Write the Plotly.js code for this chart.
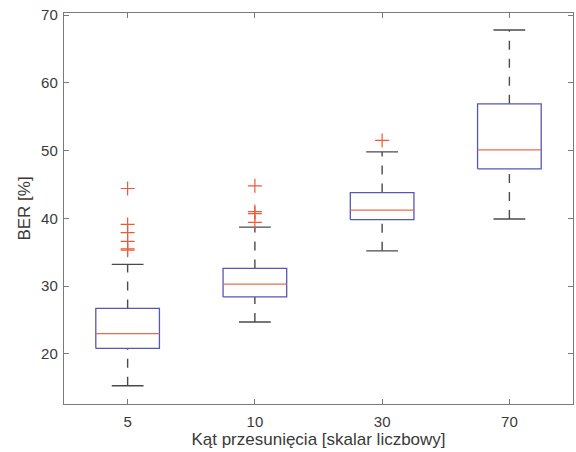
<!DOCTYPE html>
<html>
<head>
<meta charset="utf-8">
<script src="https://cdn.plot.ly/plotly-3.0.1.min.js"></script>
<style>html,body{margin:0;padding:0;background:#fff;}#chart{width:576px;height:452px;}</style>
</head>
<body>
<div id="chart"></div>
<script>
const categories = ['5', '10', '30', '70'];
const q1Values = [20.8, 28.4, 39.8, 47.3];
const medianValues = [23.0, 30.3, 41.2, 50.1];
const q3Values = [26.7, 32.6, 43.8, 56.9];
const lowerWhisker = [15.3, 24.7, 35.2, 39.9];
const upperWhisker = [33.2, 38.7, 49.8, 67.8];
const outliers5 = [44.4, 39.1, 37.9, 36.6, 35.5, 35.3];
const outliers10 = [44.8, 41.0, 40.7, 39.4];
const outliers30 = [51.5];
const outliers70 = [];
const outlierSets = [outliers5, outliers10, outliers30, outliers70];

const boxHalf = 0.25, capHalf = 0.125;
const wx = [], wy = [], cx = [], cy = [], bx = [], by = [], mx = [], my = [], ox = [], oy = [];
categories.forEach((c, i) => {
  const p = i + 1;
  wx.push(p, p, null, p, p, null);
  wy.push(q3Values[i], upperWhisker[i], null, lowerWhisker[i], q1Values[i], null);
  cx.push(p - capHalf, p + capHalf, null, p - capHalf, p + capHalf, null);
  cy.push(upperWhisker[i], upperWhisker[i], null, lowerWhisker[i], lowerWhisker[i], null);
  bx.push(p - boxHalf, p + boxHalf, p + boxHalf, p - boxHalf, p - boxHalf, null);
  by.push(q1Values[i], q1Values[i], q3Values[i], q3Values[i], q1Values[i], null);
  mx.push(p - boxHalf, p + boxHalf, null);
  my.push(medianValues[i], medianValues[i], null);
  outlierSets[i].forEach(v => { ox.push(p); oy.push(v); });
});

const traces = [
  {x: wx, y: wy, mode: 'lines', line: {color: '#4a4a4a', width: 1.4, dash: 'dash'}, hoverinfo: 'skip'},
  {x: cx, y: cy, mode: 'lines', line: {color: '#4a4a4a', width: 1.4}, hoverinfo: 'skip'},
  {x: bx, y: by, mode: 'lines', line: {color: '#5557b5', width: 1.3}, hoverinfo: 'skip'},
  {x: mx, y: my, mode: 'lines', line: {color: '#ec6a4c', width: 1.3}, hoverinfo: 'skip'},
  {x: ox, y: oy, mode: 'markers', marker: {symbol: 'cross-thin', size: 10, color: '#ec5a3c', line: {color: '#ec5a3c', width: 1.2}}}
];

const fontFam = 'Liberation Sans, Arial, sans-serif';
const axisCommon = {
  showline: true, linecolor: '#7a7a7a', linewidth: 1.2, mirror: 'ticks',
  ticks: 'inside', ticklen: 5, tickcolor: '#7a7a7a', showgrid: false, zeroline: false,
  tickfont: {family: fontFam, size: 15, color: '#3a3a3a'}
};

const layout = {
  width: 576, height: 452,
  margin: {l: 64, r: 3, t: 13, b: 48},
  paper_bgcolor: '#fff', plot_bgcolor: '#fff',
  showlegend: false,
  xaxis: Object.assign({}, axisCommon, {
    range: [0.5, 4.5], tickvals: [1, 2, 3, 4], ticktext: categories,
    ticklabelstandoff: 4,
    title: {text: 'Kąt przesunięcia [skalar liczbowy]', standoff: 3, font: {family: fontFam, size: 17, color: '#3a3a3a'}}
  }),
  yaxis: Object.assign({}, axisCommon, {
    range: [12.6, 70.3], tickvals: [20, 30, 40, 50, 60, 70],
    ticklabelstandoff: 2,
    title: {text: 'BER [%]', standoff: 6, font: {family: fontFam, size: 17, color: '#3a3a3a'}}
  })
};

Plotly.newPlot('chart', traces, layout, {displayModeBar: false, staticPlot: true});
</script>
</body>
</html>
